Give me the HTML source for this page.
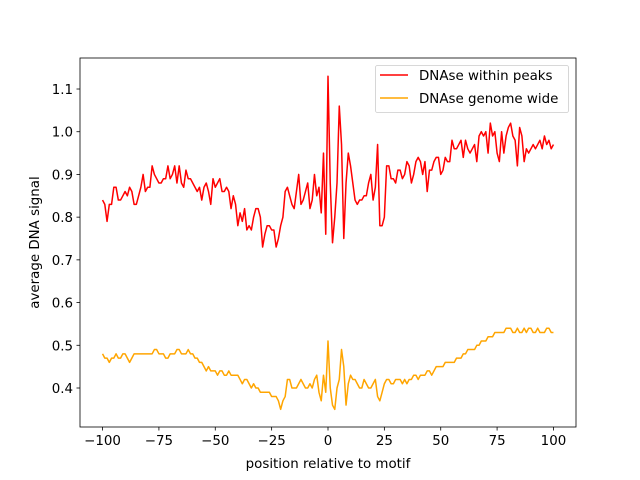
<!DOCTYPE html>
<html><head><meta charset="utf-8"><style>
body{margin:0;background:#fff}
svg{display:block;font-family:"DejaVu Sans","Liberation Sans",sans-serif}
</style></head><body>
<svg id="chart" width="640" height="480">
<rect width="640" height="480" fill="#fff"/>
<g id="plot"></g>
</svg>
<script>
const xStart = -100;
const redValues = [
0.84,0.83,0.79,0.83,0.83,0.87,0.87,0.84,0.84,0.85,
0.86,0.85,0.87,0.86,0.83,0.83,0.85,0.87,0.90,0.86,
0.87,0.87,0.92,0.90,0.89,0.88,0.88,0.89,0.89,0.92,
0.89,0.90,0.92,0.88,0.92,0.88,0.87,0.91,0.89,0.89,
0.88,0.87,0.86,0.87,0.84,0.87,0.88,0.86,0.83,0.89,
0.87,0.88,0.89,0.86,0.86,0.87,0.86,0.82,0.85,0.83,
0.78,0.81,0.79,0.82,0.77,0.78,0.77,0.80,0.82,0.82,
0.80,0.73,0.76,0.78,0.78,0.77,0.77,0.73,0.75,0.78,
0.80,0.86,0.87,0.85,0.83,0.82,0.86,0.90,0.83,0.84,
0.86,0.88,0.82,0.84,0.90,0.85,0.87,0.81,0.95,0.76,
1.13,0.88,0.74,0.80,0.88,1.06,0.97,0.75,0.88,0.95,
0.92,0.88,0.84,0.83,0.84,0.84,0.85,0.85,0.88,0.90,
0.84,0.87,0.97,0.78,0.78,0.80,0.92,0.92,0.89,0.89,
0.88,0.91,0.91,0.89,0.90,0.93,0.92,0.88,0.90,0.93,
0.94,0.93,0.90,0.93,0.86,0.91,0.91,0.93,0.94,0.94,
0.90,0.91,0.94,0.93,0.93,0.98,0.96,0.96,0.97,0.98,
0.94,0.98,0.96,0.95,0.96,0.97,0.93,0.99,1.00,0.99,
1.00,0.95,1.02,0.99,1.00,0.95,0.93,1.00,0.95,0.99,
1.01,1.02,0.99,0.98,0.92,1.01,0.99,0.93,0.96,0.95,
0.96,0.97,0.96,0.97,0.98,0.96,0.99,0.97,0.98,0.96,0.97];
const orangeValues = [
0.48,0.47,0.47,0.46,0.47,0.47,0.48,0.47,0.47,0.48,
0.48,0.47,0.46,0.47,0.48,0.48,0.48,0.48,0.48,0.48,
0.48,0.48,0.48,0.49,0.49,0.48,0.48,0.48,0.47,0.47,
0.48,0.48,0.48,0.49,0.49,0.48,0.48,0.48,0.49,0.48,
0.48,0.47,0.47,0.46,0.46,0.45,0.44,0.45,0.44,0.44,
0.44,0.43,0.44,0.44,0.43,0.43,0.44,0.43,0.43,0.43,
0.43,0.42,0.41,0.42,0.42,0.41,0.40,0.41,0.40,0.40,
0.39,0.39,0.39,0.39,0.39,0.38,0.38,0.38,0.37,0.35,
0.37,0.38,0.42,0.42,0.40,0.40,0.40,0.41,0.42,0.41,
0.40,0.40,0.41,0.40,0.42,0.43,0.39,0.37,0.43,0.39,
0.51,0.40,0.36,0.35,0.40,0.42,0.49,0.45,0.36,0.41,
0.43,0.42,0.42,0.41,0.40,0.40,0.42,0.41,0.40,0.40,
0.41,0.42,0.38,0.37,0.39,0.41,0.42,0.42,0.41,0.41,
0.42,0.42,0.42,0.41,0.42,0.41,0.42,0.42,0.43,0.43,
0.42,0.43,0.43,0.43,0.44,0.44,0.43,0.44,0.45,0.45,
0.45,0.45,0.46,0.46,0.46,0.46,0.46,0.47,0.47,0.47,
0.48,0.48,0.49,0.49,0.49,0.49,0.50,0.50,0.51,0.51,
0.51,0.52,0.52,0.52,0.53,0.53,0.53,0.53,0.53,0.54,
0.54,0.54,0.53,0.53,0.54,0.53,0.53,0.54,0.53,0.54,
0.54,0.53,0.53,0.54,0.53,0.53,0.53,0.54,0.54,0.53,0.53];
const xTicks = [-100,-75,-50,-25,0,25,50,75,100];
const yTicks = [0.4,0.5,0.6,0.7,0.8,0.9,1.0,1.1];
const yTickLabels = ["0.4","0.5","0.6","0.7","0.8","0.9","1.0","1.1"];
const seriesNames = ["DNAse within peaks","DNAse genome wide"];

const L=80,R=576,T=58,B=427;
const xMin=-110,xMax=110,yMin=0.3087,yMax=1.1726;
const X=v=>L+(v-xMin)/(xMax-xMin)*(R-L);
const Y=v=>B-(v-yMin)/(yMax-yMin)*(B-T);
const NS="http://www.w3.org/2000/svg";
const g=document.getElementById('plot');
const FS=13.4;
function mk(tag,attrs,parent){const e=document.createElementNS(NS,tag);for(const k in attrs)e.setAttribute(k,attrs[k]);(parent||g).appendChild(e);return e;}

function drawLine(vals,color,name){
  const d=vals.map((v,i)=>(i?'L':'M')+X(xStart+i).toFixed(2)+','+Y(v).toFixed(2)).join('');
  const p=mk('path',{d:d,fill:'none',stroke:color,'stroke-width':1.5,'stroke-linejoin':'round'});
  
  
}
drawLine(orangeValues,'#ffa500','series-genome-wide');
drawLine(redValues,'#ff0000','series-within-peaks');

const frame=mk('rect',{x:L,y:T,width:R-L,height:B-T,fill:'none',stroke:'#000','stroke-width':0.8});



xTicks.forEach(t=>{
  const x=X(t);
  mk('line',{x1:x,x2:x,y1:B,y2:B+3.5,stroke:'#000','stroke-width':0.8});
  const tx=mk('text',{x:x,y:B+18,'font-size':FS,'text-anchor':'middle'});
  tx.textContent=String(t).replace('-','\u2212');
  
  
});
yTicks.forEach((t,i)=>{
  const y=Y(t);
  mk('line',{x1:L-3.5,x2:L,y1:y,y2:y,stroke:'#000','stroke-width':0.8});
  const tx=mk('text',{x:L-7,y:y+5,'font-size':FS,'text-anchor':'end'});
  tx.textContent=yTickLabels[i];
  
  
});
const xt=mk('text',{x:(L+R)/2,y:468,'font-size':FS,'text-anchor':'middle'});
xt.textContent='position relative to motif';


const yt=mk('text',{x:0,y:0,'font-size':FS,'text-anchor':'middle',transform:`translate(39,${(T+B)/2}) rotate(-90)`});
yt.textContent='average DNA signal';



const lg=mk('g',{});


mk('rect',{x:375.5,y:65.5,width:193,height:47,rx:2,fill:'#fff','fill-opacity':0.8,stroke:'#ccc','stroke-width':0.8},lg);
['#ff0000','#ffa500'].forEach((c,i)=>{
  const y=75+i*23;
  mk('line',{x1:380,x2:408,y1:y,y2:y,stroke:c,'stroke-width':1.5},lg);
  const t=mk('text',{x:419,y:y+5,'font-size':FS},lg);
  t.textContent=seriesNames[i];
  
  
});
</script>
</body></html>
